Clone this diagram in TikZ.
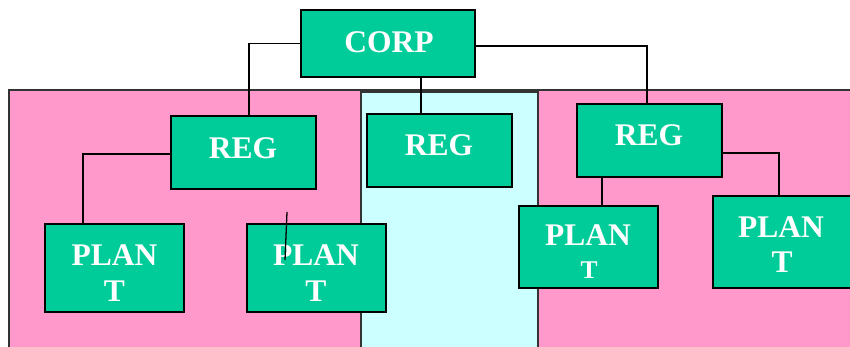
\documentclass[tikz,border=0pt]{standalone}
\usepackage{fontspec}
\setmainfont{Liberation Serif}
\definecolor{boxgreen}{HTML}{00CC99}
\definecolor{zonepink}{HTML}{FF99CC}
\definecolor{zonecyan}{HTML}{CCFFFF}
\begin{document}
\begin{tikzpicture}[x=1pt,y=-1pt,
  orgbox/.style={draw=black,fill=boxgreen,line width=1.4pt,inner sep=0pt,rectangle},
  lbl/.style={anchor=base,text=white,inner sep=0pt,font=\fontsize{31.5}{36}\selectfont\bfseries},
  smalllbl/.style={anchor=base,text=white,inner sep=0pt,font=\fontsize{25.5}{28}\selectfont\bfseries},
  conn/.style={draw=black,line width=1.3pt},
  zone/.style={draw=black!80,line width=1.3pt}]
\useasboundingbox (0,0) rectangle (850,346);
% background zones
\path[zone,fill=zonepink] (9,90) rectangle (853,350);
\path[zone,fill=zonecyan] (361,92) rectangle (538,350);
% boxes
\node[orgbox,minimum width=174pt,minimum height=67pt] (corp) at (388,43.5) {};
\node[orgbox,minimum width=145pt,minimum height=73pt] (rl) at (243.5,152.5) {};
\node[orgbox,minimum width=145pt,minimum height=73pt] (rm) at (439.5,150.5) {};
\node[orgbox,minimum width=145pt,minimum height=73pt] (rr) at (649.5,140.5) {};
\node[orgbox,minimum width=139pt,minimum height=88pt] (p1) at (114.5,268) {};
\node[orgbox,minimum width=139pt,minimum height=88pt] (p2) at (316.5,268) {};
\node[orgbox,minimum width=139pt,minimum height=82pt] (p3) at (588.5,247) {};
\node[orgbox,minimum width=138pt,minimum height=92pt] (p4) at (782,242) {};
% connectors
\draw[conn] (corp.west) -| ([xshift=5.5pt]rl.north);
\draw[conn] ([xshift=33pt]corp.south) -- ([xshift=33pt]corp.south |- rm.north);
\draw[conn] ([yshift=-2.5pt]corp.east) -| ([xshift=-2.5pt]rr.north);
\draw[conn] ([yshift=-1.5pt]rl.west) -| ([xshift=-31.5pt]p1.north);
\draw[conn] ([xshift=-47.5pt]rr.south) -- ([xshift=-47.5pt]rr.south |- p3.north);
\draw[conn] ([yshift=-12.5pt]rr.east) -| ([xshift=-3pt]p4.north);
% labels
\node[lbl] (tcorp) at (389,52) {CORP};
\node[lbl] (trl) at (243,158) {REG};
\node[lbl] (trm) at (439,155) {REG};
\node[lbl] (trr) at (649,145) {REG};
\node[lbl] (tp1a) at (114.5,265) {PLAN};
\node[lbl] (tp1b) at (114.5,301) {T};
\node[lbl] (tp2a) at (316,265) {PLAN};
\node[lbl] (tp2b) at (316,301) {T};
\node[lbl] (tp3a) at (588,245) {PLAN};
\node[smalllbl] (tp3b) at (589,278) {T};
\node[lbl] (tp4a) at (781,237) {PLAN};
\node[lbl] (tp4b) at (782,272) {T};
% stray stroke
\coordinate (s1) at (287,212);
\coordinate (s2) at (285,260);
\draw[conn] (s1) -- (s2);
\end{tikzpicture}
\end{document}
